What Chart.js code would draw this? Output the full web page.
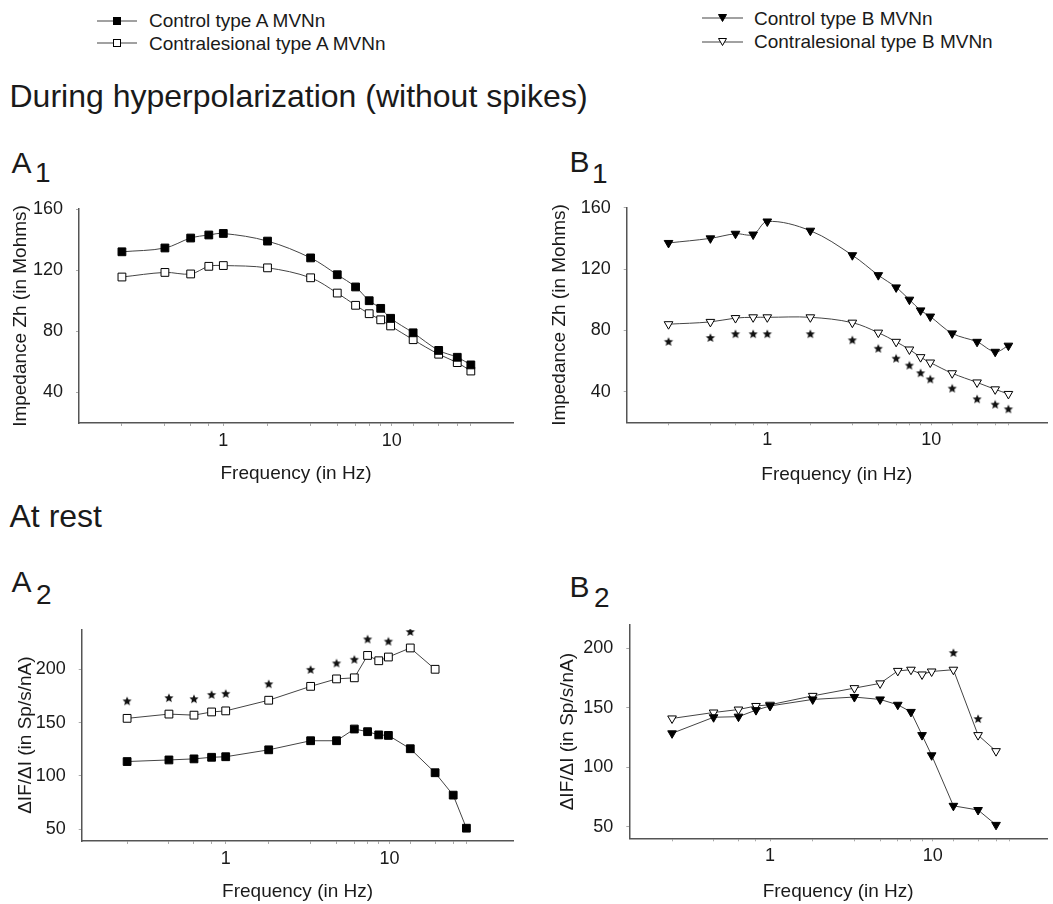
<!DOCTYPE html>
<html>
<head>
<meta charset="utf-8">
<script src="https://cdn.jsdelivr.net/npm/chart.js@4.4.1/dist/chart.umd.min.js"></script>
<style>
  body { margin: 0; background: #fff; }
  #page { position: relative; width: 1053px; height: 904px; overflow: hidden;
          font-family: "Liberation Sans", Arial, sans-serif; color: #1a1a1a; }
  .txt { position: absolute; white-space: nowrap; }
  .box { position: absolute; }
  svg { position: absolute; overflow: visible; }
</style>
</head>
<body>
<div id="page"></div>
<script>
// stimulation frequencies (Hz), same set for every panel
var freqHz = [0.25, 0.45, 0.64, 0.82, 1.0, 1.83, 3.3, 4.75, 6.1, 7.35, 8.6, 9.85, 13.4, 19.0, 24.5, 29.5];

// A1 - impedance, type A (Mohms)
var a1Control = [132, 134.5, 141, 143, 144, 139, 128, 117, 109, 100, 95, 88.5, 79, 67.5, 63, 58];
var a1Contra  = [115.5, 118.5, 117.5, 122.5, 123, 121.5, 115, 105, 97, 91.5, 87.5, 83.5, 74.5, 65, 59.5, 54];

// B1 - impedance, type B (Mohms)
var b1Control = [137, 140, 143, 142.5, 151, 145, 129, 116, 108, 100, 93, 89, 78, 72.5, 66, 70];
var b1Contra  = [84, 85.5, 88, 88.5, 88.5, 88.5, 85, 78.5, 72.5, 67.5, 62.5, 59, 52, 46, 41.5, 38.5];
var b1Stars   = [72.5, 75, 77.5, 77.5, 77.5, 77.5, 73.5, 68, 61.5, 57, 52, 48, 42, 35, 31.5, 28.5];

// A2 - gain at rest, type A (Sp/s/nA)
var a2Control = [113.5, 115, 116, 117.5, 118, 124.5, 133, 133, 144, 141.5, 138.5, 138, 125.5, 103, 82, 51];
var a2Contra  = [154, 158, 157, 160, 161, 171, 184, 191, 192, 213, 208, 211.5, 220, 200, null, null];
var a2Stars   = [170, 173, 172, 176, 177, 186, 199.5, 205.5, 209, 228, null, 226, 235, null, null, null];

// B2 - gain at rest, type B (Sp/s/nA)
var b2Control = [128.5, 142, 142.5, 148, 151.5, 157, 159, 157, 152.5, 146.5, 127, 110, 67.5, 64, 51.5, null];
var b2Contra  = [141, 146, 148.5, 151.5, 152.5, 160, 166.5, 170.5, 181, 182, 178, 180.5, 182, 127, 113.5, null];
var b2Stars   = [null, null, null, null, null, null, null, null, null, null, null, null, 196, 140.5, null, null];

var impTicks = [40, 80, 120, 160];
var gainTicks = [50, 100, 150, 200];
var xLabelTicks = [1, 10];

var FONT = '"Liberation Sans", Arial, sans-serif';
var INK = '#1a1a1a';
var LINE = '#444';
var page = document.getElementById('page');

function addText(str, x, baseline, size) {
  var d = document.createElement('div');
  d.className = 'txt';
  d.textContent = str;
  d.style.left = x + 'px';
  d.style.top = (baseline - 0.8465 * size) + 'px';
  d.style.fontSize = size + 'px';
  d.style.lineHeight = size + 'px';
  page.appendChild(d);
}

// small legend sample: line with a marker in the middle
function legendSymbol(x1, x2, y, kind) {
  var ns = 'http://www.w3.org/2000/svg';
  var s = document.createElementNS(ns, 'svg');
  s.setAttribute('width', x2 - x1);
  s.setAttribute('height', 12);
  s.style.left = x1 + 'px';
  s.style.top = (y - 6) + 'px';
  var mid = (x2 - x1) / 2;
  var ln = document.createElementNS(ns, 'line');
  ln.setAttribute('x1', 0); ln.setAttribute('x2', x2 - x1);
  ln.setAttribute('y1', 6); ln.setAttribute('y2', 6);
  ln.setAttribute('stroke', LINE); ln.setAttribute('stroke-width', 1.2);
  s.appendChild(ln);
  var m;
  if (kind == 'sq' || kind == 'osq') {
    m = document.createElementNS(ns, 'rect');
    m.setAttribute('x', mid - 3.5); m.setAttribute('y', 2.5);
    m.setAttribute('width', 7); m.setAttribute('height', 7);
  } else {
    m = document.createElementNS(ns, 'polygon');
    m.setAttribute('points', (mid - 4) + ',2.5 ' + (mid + 4) + ',2.5 ' + mid + ',9.5');
  }
  m.setAttribute('fill', (kind == 'sq' || kind == 'tri') ? '#000' : '#fff');
  m.setAttribute('stroke', '#000'); m.setAttribute('stroke-width', 1);
  s.appendChild(m);
  page.appendChild(s);
}

function makeStar(r) {
  var c = document.createElement('canvas');
  var s = Math.ceil(r * 2 + 2);
  c.width = c.height = s;
  var g = c.getContext('2d');
  g.fillStyle = '#111';
  g.beginPath();
  for (var i = 0; i < 10; i++) {
    var rr = i % 2 ? r * 0.45 : r;
    var a = -Math.PI / 2 + i * Math.PI / 5;
    g.lineTo(s / 2 + rr * Math.cos(a), s / 2 + rr * Math.sin(a));
  }
  g.closePath();
  g.fill();
  return c;
}
var starImg = makeStar(4.8);

function pts(ys) {
  var out = [];
  for (var i = 0; i < freqHz.length; i++) {
    if (ys[i] != null) out.push({x: freqHz[i], y: ys[i]});
  }
  return out;
}

function series(ys, kind, tension) {
  var filled = (kind == 'sq' || kind == 'tri');
  var tri = (kind == 'tri' || kind == 'otri');
  return {
    data: pts(ys),
    showLine: true,
    tension: tension,
    borderColor: LINE,
    borderWidth: 1,
    pointStyle: tri ? 'triangle' : 'rect',
    pointRotation: tri ? 180 : 0,
    pointRadius: tri ? 5 : 5.5,
    pointBackgroundColor: filled ? '#000' : '#fff',
    pointBorderColor: '#000',
    pointBorderWidth: 1
  };
}

function stars(ys) {
  return { data: pts(ys), showLine: false, pointStyle: starImg, pointRadius: 5 };
}

function makePanel(p) {
  var wrap = document.createElement('div');
  wrap.className = 'box';
  wrap.style.left = p.box[0] + 'px';
  wrap.style.top = p.box[1] + 'px';
  wrap.style.width = p.box[2] + 'px';
  wrap.style.height = p.box[3] + 'px';
  var cv = document.createElement('canvas');
  wrap.appendChild(cv);
  page.appendChild(wrap);

  var yW = p.axisLeft - p.box[0];
  var xH = p.box[1] + p.box[3] - p.plotBottom;
  var xTickVals = freqHz.filter(function(f) { return Math.abs(f - 10) > 0.5; }).concat([10]);
  xTickVals.sort(function(a, b) { return a - b; });

  new Chart(cv, {
    type: 'scatter',
    data: { datasets: p.datasets },
    options: {
      responsive: true,
      maintainAspectRatio: false,
      animation: false,
      layout: { padding: { left: 0, bottom: 0, top: p.plotTop - p.box[1], right: p.box[0] + p.box[2] - p.axisRight } },
      plugins: { legend: { display: false }, tooltip: { enabled: false } },
      scales: {
        x: {
          type: 'logarithmic',
          min: p.xMin, max: p.xMax,
          afterBuildTicks: function(s) { s.ticks = xTickVals.map(function(v) { return {value: v}; }); },
          afterFit: function(s) { s.height = xH; },
          grid: { drawOnChartArea: false, drawTicks: true, tickLength: 3, color: '#aaa' },
          border: { color: '#555', width: 1.5 },
          ticks: {
            autoSkip: false, maxRotation: 0, minRotation: 0, padding: 4, color: INK,
            font: { size: 18, family: FONT },
            callback: function(v) { return xLabelTicks.indexOf(v) >= 0 ? String(v) : ''; }
          },
          title: {
            display: true, text: 'Frequency (in Hz)', color: INK,
            font: { size: 19, family: FONT, lineHeight: 1.2 },
            padding: { top: 0, bottom: (p.box[1] + p.box[3] - p.xTitleY) - 11.4 }
          }
        },
        y: {
          type: 'linear',
          min: p.yMin, max: p.yMax,
          afterBuildTicks: function(s) { s.ticks = p.yTicks.map(function(v) { return {value: v}; }); },
          afterFit: function(s) { s.width = yW; },
          grid: { drawOnChartArea: false, drawTicks: true, tickLength: 3, color: '#aaa' },
          border: { color: '#555', width: 1.5 },
          ticks: { padding: 13, color: INK, font: { size: 18, family: FONT } },
          title: {
            display: true, text: p.yTitle, color: INK,
            font: { size: 19, family: FONT, lineHeight: 1.2 },
            padding: { top: p.yTitleX - p.box[0] - 11.4, bottom: 0 }
          }
        }
      }
    }
  });
}

// ---- legends ----
legendSymbol(97, 137, 21, 'sq');
addText('Control type A MVNn', 149, 27, 19);
legendSymbol(97, 137, 43, 'osq');
addText('Contralesional type A MVNn', 149, 50, 19);

legendSymbol(702, 743, 18, 'tri');
addText('Control type B MVNn', 754, 25, 19);
legendSymbol(702, 743, 42, 'otri');
addText('Contralesional type B MVNn', 754, 48.5, 19);

// ---- headings and panel letters ----
addText('During hyperpolarization (without spikes)', 9.5, 107, 32);
addText('At rest', 9.5, 527, 32);

addText('A', 11.5, 173, 30); addText('1', 35, 183, 28);
addText('B', 569.5, 172, 30); addText('1', 592, 184, 28);
addText('A', 11.5, 592, 30); addText('2', 36, 605, 28);
addText('B', 569.5, 597, 30); addText('2', 594, 608, 28);

// ---- panels ----
makePanel({
  box: [0, 180, 520, 320], axisLeft: 79, axisRight: 513, plotTop: 209, plotBottom: 423,
  xMin: 0.139, xMax: 52.5, yMin: 20, yMax: 160, yTicks: impTicks,
  yTitle: 'Impedance Zh (in Mohms)', xTitleY: 474, yTitleX: 21,
  datasets: [series(a1Control, 'sq', 0.35), series(a1Contra, 'osq', 0.35)]
});

makePanel({
  box: [530, 180, 523, 320], axisLeft: 626.7, axisRight: 1047, plotTop: 207.7, plotBottom: 422.3,
  xMin: 0.139, xMax: 50.7, yMin: 20, yMax: 160, yTicks: impTicks,
  yTitle: 'Impedance Zh (in Mohms)', xTitleY: 475, yTitleX: 560,
  datasets: [series(b1Control, 'tri', 0.35), series(b1Contra, 'otri', 0.35), stars(b1Stars)]
});

makePanel({
  box: [0, 600, 520, 304], axisLeft: 81.7, axisRight: 516.7, plotTop: 629.3, plotBottom: 841,
  xMin: 0.132, xMax: 57.2, yMin: 39, yMax: 237.5, yTicks: gainTicks,
  yTitle: '\u0394IF/\u0394I (in Sp/s/nA)', xTitleY: 892, yTitleX: 26,
  datasets: [series(a2Control, 'sq', 0), series(a2Contra, 'osq', 0), stars(a2Stars)]
});

makePanel({
  box: [530, 600, 523, 304], axisLeft: 629.3, axisRight: 1047, plotTop: 625, plotBottom: 838.3,
  xMin: 0.1365, xMax: 50.4, yMin: 40.2, yMax: 219.6, yTicks: gainTicks,
  yTitle: '\u0394IF/\u0394I (in Sp/s/nA)', xTitleY: 892, yTitleX: 568,
  datasets: [series(b2Control, 'tri', 0), series(b2Contra, 'otri', 0), stars(b2Stars)]
});
</script>
</body>
</html>
